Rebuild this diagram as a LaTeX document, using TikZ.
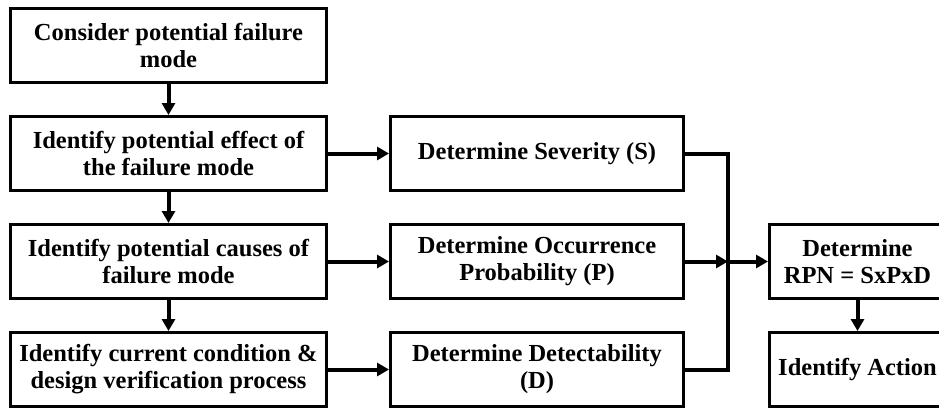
\documentclass[tikz,border=0pt]{standalone}
\usepackage{fontspec}
\setmainfont{Liberation Serif}
\usetikzlibrary{arrows.meta,positioning,calc}

\begin{document}
\begin{tikzpicture}[
  node distance=31pt and 61pt,
  stepbox/.style={draw=black, line width=3pt, align=center, minimum height=74pt, inner sep=1pt, font=\fontsize{24.5}{27}\selectfont\bfseries},
  leftbox/.style={stepbox, minimum width=316pt},
  midbox/.style={stepbox, minimum width=293pt},
  rightbox/.style={stepbox, minimum width=176pt},
  arr/.style={-{Triangle[length=12pt,width=13pt]}, line width=4pt},
  link/.style={line width=4pt}
]
\clip (0,0) rectangle (939pt,-412pt);
\node[leftbox] (fail) at (168.5pt,-45.5pt) {Consider potential failure\\mode};
\node[leftbox, below=of fail] (effect) {Identify potential effect of\\the failure mode};
\node[leftbox, below=of effect] (cause) {Identify potential causes of\\failure mode};
\node[leftbox, below=of cause] (verify) {Identify current condition \&\\design verification process};

\node[midbox, right=of effect] (sev) {Determine Severity (S)};
\node[midbox, right=of cause] (occ) {Determine Occurrence\\Probability (P)};
\node[midbox, right=of verify] (det) {Determine Detectability\\(D)};

\node[rightbox, right=83pt of occ] (rpn) {Determine\\RPN = SxPxD};
\node[rightbox, right=83pt of det] (act) {Identify Action};

\coordinate (jn) at ($(occ.east)+(43pt,0)$);

\draw[arr] (fail) -- (effect); \draw[arr] (effect) -- (cause); \draw[arr] (cause) -- (verify);
\draw[arr] (effect) -- (sev); \draw[arr] (cause) -- (occ); \draw[arr] (verify) -- (det);
\draw[link] (sev.east) -| (jn) |- (det.east);
\draw[arr] (occ.east) -- (jn);
\draw[arr] (jn) -- (rpn);
\draw[arr] (rpn) -- (act);
\end{tikzpicture}
\end{document}
